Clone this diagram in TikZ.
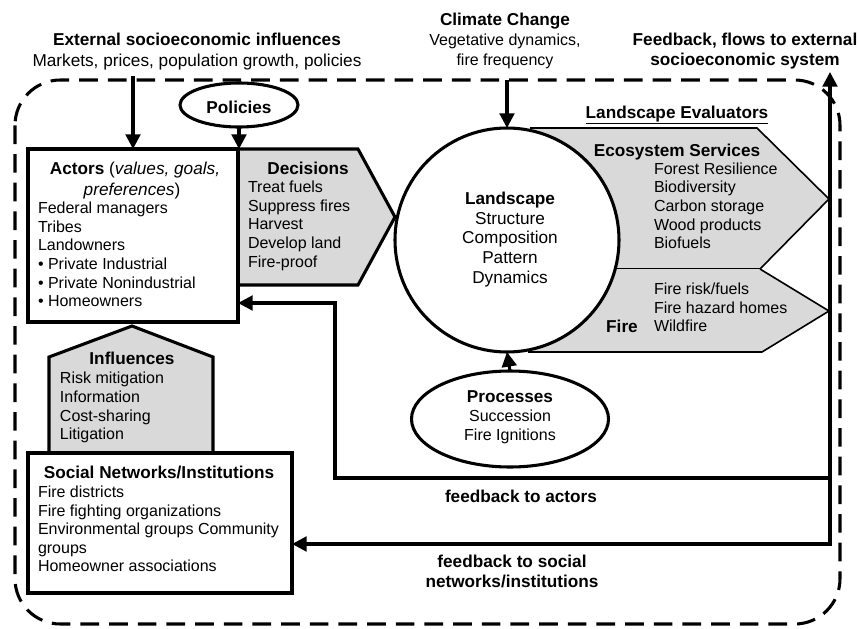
\documentclass[tikz,border=0pt]{standalone}
\usepackage{fontspec}
\setmainfont{Liberation Sans}
\usetikzlibrary{arrows.meta,shapes.geometric,calc}
\definecolor{boxgray}{HTML}{D9D9D9}
\newcommand{\bt}[1]{{\fontsize{12.9pt}{14pt}\selectfont\bfseries #1}}
\begin{document}
\begin{tikzpicture}[x=0.75pt,y=-0.75pt,
  thickln/.style={line width=2.3pt},
  thinln/.style={line width=1.2pt},
  arr/.style={line width=2.3pt,-{Triangle[width=11pt,length=11pt]}},
  txt/.style={font=\fontsize{12pt}{14pt}\selectfont, inner sep=0pt, outer sep=0pt, align=left, anchor=base west},
  ctxt/.style={font=\fontsize{12pt}{14pt}\selectfont, inner sep=0pt, outer sep=0pt, align=center, anchor=base},
  boxnode/.style={draw, thickln, fill=white, inner sep=0pt, outer sep=0pt, anchor=north west},
]
\useasboundingbox (0,0) rectangle (858,629);

% outer dashed frame
\draw[line width=2.3pt, dash pattern=on 14pt off 7.5pt, rounded corners=34pt] (15,80) rectangle (840,624);

% ecosystem services and fire shapes
\fill[boxgray] (530,128) -- (757,128) -- (829,199) -- (760,269) -- (530,269) -- cycle;
\draw[thinln] (530,128) -- (757,128) -- (829,199) -- (760,269) -- (530,269);
\fill[boxgray] (528,269) -- (760,269) -- (829,311) -- (762,352) -- (528,352) -- cycle;
\draw[thinln] (760,269) -- (829,311) -- (762,352) -- (528,352);

% landscape circle
\node[draw, circle, thickln, fill=white, minimum size=168pt, inner sep=0pt, outer sep=0pt] (land) at (507,240) {};

% decisions pentagon
\draw[thickln, fill=boxgray] (238,149) -- (358,149) -- (395,217) -- (358,285) -- (238,285) -- cycle;

% influences house
\draw[thickln, fill=boxgray] (49,453) -- (49,357) -- (132,326) -- (213,357) -- (213,453) -- cycle;

% boxes
\node[boxnode, minimum width=157.5pt, minimum height=129.75pt] (actors) at (28,149) {};
\node[boxnode, minimum width=198pt, minimum height=105pt] (social) at (28,453) {};

% ellipses
\node[draw, ellipse, thickln, fill=white, minimum width=88.5pt, minimum height=33pt, inner sep=0pt, outer sep=0pt] (pol) at (239,105) {};
\node[draw, ellipse, thickln, fill=white, minimum width=147.75pt, minimum height=72pt, inner sep=0pt, outer sep=0pt] (proc) at (510,419) {};

% texts at top (multi-line nodes are placed by the baseline of their last line)
\node[ctxt] (exth) at (197,45) {\bt{External socioeconomic influences}};
\node[ctxt, font=\fontsize{12.9pt}{14pt}\selectfont] (extb) at (197,66) {Markets, prices, population growth, policies};
\node[ctxt, font=\fontsize{12pt}{15pt}\selectfont] (clim) at (505,65) {\bt{Climate Change}\\Vegetative dynamics,\\fire frequency};
\node[ctxt] (fbext1) at (745,45) {\bt{Feedback, flows to external}};
\node[ctxt] (fbext2) at (745,65) {\bt{socioeconomic system}};
\node[ctxt] (leval) at (677,118) {\underline{\bt{Landscape Evaluators}}};
\node[ctxt] (poltxt) at (239,113) {\bt{Policies}};

% actors text
\node[ctxt, font=\fontsize{12.9pt}{14pt}\selectfont] (acth1) at (135,174) {\textbf{Actors} (\textit{values, goals,}};
\node[ctxt, font=\fontsize{12.9pt}{14pt}\selectfont] (acth2) at (132,195) {\textit{preferences})};
\node[txt] (actl) at (38,306.8) {Federal managers\\Tribes\\Landowners\\\textbullet\ Private Industrial\\\textbullet\ Private Nonindustrial\\\textbullet\ Homeowners};

% decisions text
\node[ctxt] (dech) at (308,174) {\bt{Decisions}};
\node[txt] (decl) at (248,267.2) {Treat fuels\\Suppress fires\\Harvest\\Develop land\\Fire-proof};

% landscape text
\node[ctxt, font=\fontsize{12.9pt}{14.8pt}\selectfont] (landtxt) at (510,283.4) {\textbf{Landscape}\\Structure\\Composition\\Pattern\\Dynamics};

% ecosystem services text
\node[ctxt] (ecoh) at (677,156) {\bt{Ecosystem Services}};
\node[txt] (ecol) at (654,248.7) {Forest Resilience\\Biodiversity\\Carbon storage\\Wood products\\Biofuels};

% fire text
\node[txt] (firel) at (654,331.8) {Fire risk/fuels\\Fire hazard homes\\Wildfire};
\node[ctxt] (fireh) at (622,332) {\bt{Fire}};

% influences text
\node[ctxt] (infh) at (132,364) {\bt{Influences}};
\node[txt] (infl) at (60,439.8) {Risk mitigation\\Information\\Cost-sharing\\Litigation};

% social text
\node[ctxt] (soch) at (159,478) {\bt{Social Networks/Institutions}};
\node[txt, font=\fontsize{12pt}{13.9pt}\selectfont] (socl) at (38,571.6) {Fire districts\\Fire fighting organizations\\Environmental groups Community\\groups\\Homeowner associations};

% processes text
\node[ctxt, font=\fontsize{12pt}{14.2pt}\selectfont] (proctxt) at (510,440.4) {\bt{Processes}\\Succession\\Fire Ignitions};

% feedback labels
\node[ctxt] (fbact) at (521,502) {\bt{feedback to actors}};
\node[ctxt, font=\fontsize{12.9pt}{15pt}\selectfont] (fbsoc) at (512,587.5) {\textbf{feedback to social}\\\textbf{networks/institutions}};

% connectors
\coordinate (extsrc) at (133,76);
\coordinate (climsrc) at (507,80);
\coordinate (fbtop) at (830,72);
\coordinate (fbR1) at (830,478);
\coordinate (fbR2) at (830,544);
\coordinate (fbL) at (335,478);
\coordinate (fbA) at (335,303);

\draw[arr] (extsrc) -- (extsrc |- actors.north);
\draw[arr] (pol.south) -- (pol.south |- actors.north);
\draw[arr] (climsrc) -- (land.north);
\draw[arr] (proc.north) -- (land.south);
\draw[line width=2.3pt, {Triangle[width=11pt,length=11pt]}-{Triangle[width=11pt,length=11pt]}] (fbtop) -- (fbR2) -- (fbR2 -| social.east);
\draw[arr] (fbR1) -- (fbL) -- (fbA) -- (fbA -| actors.east);
\end{tikzpicture}
\end{document}
